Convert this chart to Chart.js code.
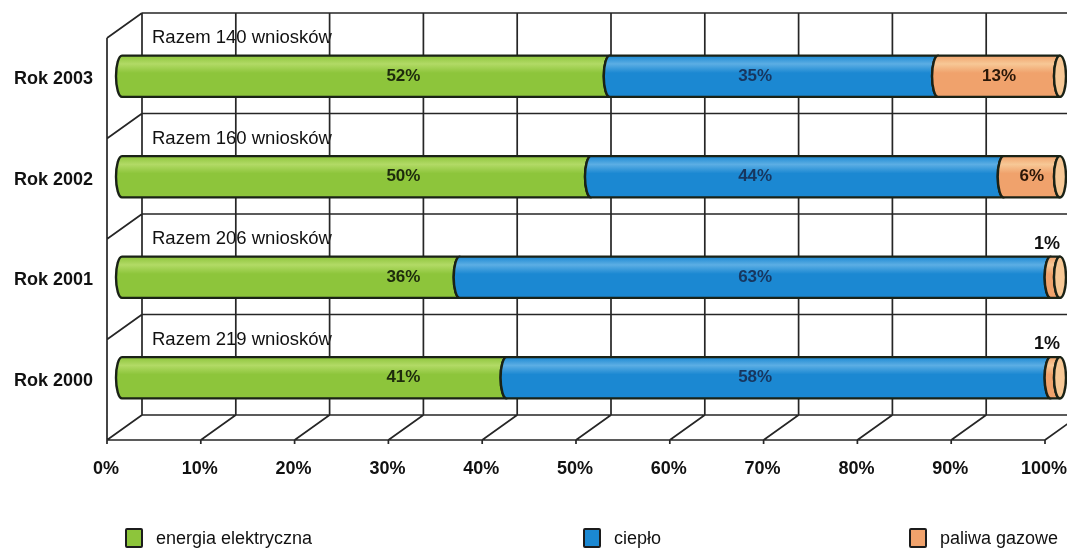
<!DOCTYPE html>
<html lang="pl">
<head>
<meta charset="utf-8">
<title>Struktura wniosków</title>
<script src="https://cdn.jsdelivr.net/npm/chart.js@4.4.1/dist/chart.umd.min.js"></script>
<style>
  html, body { margin: 0; padding: 0; background: #fff; }
  #wrap { position: relative; width: 1067px; height: 548px; overflow: hidden; }
  #legend {
    position: absolute; left: 0; right: 0; top: 527px; height: 22px;
    font: 18px "Liberation Sans", Arial, sans-serif; color: #111;
  }
  .item { position: absolute; top: 0; display: flex; align-items: center; height: 22px; }
  .box { width: 14px; height: 16px; border: 2px solid #1c1c1c; border-radius: 2px; margin-right: 13px; }
</style>
</head>
<body>
<div id="wrap">
  <canvas id="c" width="1067" height="548"></canvas>
  <div id="legend"></div>
</div>
<script>
// Categories (top to bottom) and the total number of applications per year
const years = ['Rok 2003', 'Rok 2002', 'Rok 2001', 'Rok 2000'];
const totals = [140, 160, 206, 219];

// Shares in percent
const energia = [52, 50, 36, 41];
const cieplo = [35, 44, 63, 58];
const paliwa = [13, 6, 1, 1];

// Axis tick values
const xTicks = [0, 10, 20, 30, 40, 50, 60, 70, 80, 90, 100];

const seriesNames = ['energia elektryczna', 'ciepło', 'paliwa gazowe'];

// Styling per series: fill, lighter cap colour, label colour, label anchor (axis units or null = centred)
const styles = [
  { fill: '#8dc53b', light: '#b2da66', text: '#1d2a0c', anchor: 30 },
  { fill: '#1b88d2', light: '#5caee4', text: '#17365f', anchor: 67.5 },
  { fill: '#f0a26c', light: '#f7c896', text: '#2a1708', anchor: null }
];
// Left edge of each legend entry
const legendLeft = [125, 583, 909];

const FONT = '"Liberation Sans", Arial, sans-serif';
const LINE = '#262626';
const BACK = { dx: 20, dy: -13 };   // depth offset of the back wall
const FRONT = { dx: -15, dy: 12 };  // depth offset of the front edge
const RX = 6;                        // horizontal radius of the cylinder ends

// Back wall, side wall, floor and the "Razem" captions
const framePlugin = {
  id: 'frame3d',
  beforeDatasetsDraw(chart) {
    const ctx = chart.ctx;
    const xs = chart.scales.x, ys = chart.scales.y;
    const top = chart.chartArea.top, bottom = chart.chartArea.bottom;
    const band = (bottom - top) / years.length;
    const bounds = [];
    for (let k = 0; k <= years.length; k++) bounds.push(top + k * band);
    const x0 = xs.getPixelForValue(0), x100 = xs.getPixelForValue(100);

    // captions above the bars
    ctx.save();
    ctx.font = '18.5px ' + FONT;
    ctx.fillStyle = '#111';
    ctx.textBaseline = 'middle';
    ctx.textAlign = 'left';
    years.forEach((y, i) => {
      const cy = ys.getPixelForValue(i);
      ctx.fillText('Razem ' + totals[i] + ' wniosków', x0 + 30, cy - 38);
    });
    ctx.restore();

    ctx.save();
    ctx.strokeStyle = LINE;
    ctx.lineWidth = 1.7;
    ctx.beginPath();
    // back wall verticals
    xTicks.forEach(v => {
      const x = xs.getPixelForValue(v) + BACK.dx;
      ctx.moveTo(x, top + BACK.dy);
      ctx.lineTo(x, bottom + BACK.dy);
    });
    // back wall horizontals and side wall diagonals
    bounds.forEach(b => {
      ctx.moveTo(x0 + BACK.dx, b + BACK.dy);
      ctx.lineTo(x100 + BACK.dx, b + BACK.dy);
      ctx.moveTo(x0 + FRONT.dx, b + FRONT.dy);
      ctx.lineTo(x0 + BACK.dx, b + BACK.dy);
    });
    // side wall front edge
    ctx.moveTo(x0 + FRONT.dx, top + FRONT.dy);
    ctx.lineTo(x0 + FRONT.dx, bottom + FRONT.dy);
    // floor front edge
    ctx.moveTo(x0 + FRONT.dx, bottom + FRONT.dy);
    ctx.lineTo(x100 + FRONT.dx, bottom + FRONT.dy);
    // floor diagonals and tick marks
    xTicks.forEach(v => {
      const x = xs.getPixelForValue(v);
      ctx.moveTo(x + FRONT.dx, bottom + FRONT.dy);
      ctx.lineTo(x + BACK.dx, bottom + BACK.dy);
      ctx.moveTo(x + FRONT.dx, bottom + FRONT.dy);
      ctx.lineTo(x + FRONT.dx, bottom + FRONT.dy + 4);
    });
    ctx.stroke();
    ctx.restore();
  }
};

// Bars drawn as cylinders from the bar elements' geometry
const cylinderPlugin = {
  id: 'cylinders',
  beforeDatasetDraw() { return false; },
  afterDatasetsDraw(chart) {
    const ctx = chart.ctx;
    const xs = chart.scales.x;
    const nSets = chart.data.datasets.length;
    ctx.save();
    ctx.lineJoin = 'round';
    for (let d = 0; d < nSets; d++) {
      const meta = chart.getDatasetMeta(d);
      meta.data.forEach(el => {
        const p = el.getProps(['x', 'y', 'base', 'height'], true);
        const ry = p.height / 2;
        const s = Math.min(p.base, p.x), e = Math.max(p.base, p.x);
        const g = ctx.createLinearGradient(0, p.y - ry, 0, p.y + ry);
        g.addColorStop(0, styles[d].fill);
        g.addColorStop(0.2, styles[d].light);
        g.addColorStop(0.42, styles[d].fill);
        g.addColorStop(1, styles[d].fill);
        ctx.beginPath();
        ctx.moveTo(s, p.y - ry);
        ctx.ellipse(s, p.y, RX, ry, 0, -Math.PI / 2, Math.PI / 2, true);
        ctx.lineTo(e, p.y + ry);
        ctx.ellipse(e, p.y, RX, ry, 0, Math.PI / 2, -Math.PI / 2, false);
        ctx.closePath();
        ctx.fillStyle = g;
        ctx.fill();
        ctx.strokeStyle = '#1a2216';
        ctx.lineWidth = 2.4;
        ctx.stroke();
        // end face of the cylinder
        if (d === nSets - 1) {
          ctx.beginPath();
          ctx.ellipse(e, p.y, RX, ry, 0, 0, Math.PI * 2);
          ctx.fillStyle = styles[d].light;
          ctx.fill();
          ctx.stroke();
        }
      });
    }

    // value labels
    ctx.font = 'bold 17px ' + FONT;
    ctx.textBaseline = 'middle';
    for (let d = 0; d < nSets; d++) {
      const meta = chart.getDatasetMeta(d);
      const vals = chart.data.datasets[d].data;
      meta.data.forEach((el, i) => {
        const p = el.getProps(['x', 'y', 'base', 'height'], true);
        const v = vals[i];
        const txt = v + '%';
        if (styles[d].anchor !== null) {
          ctx.textAlign = 'center';
          ctx.fillStyle = styles[d].text;
          ctx.fillText(txt, xs.getPixelForValue(styles[d].anchor), p.y);
        } else if (v >= 3) {
          ctx.textAlign = 'center';
          ctx.fillStyle = styles[d].text;
          ctx.fillText(txt, (p.x + p.base) / 2, p.y);
        } else {
          ctx.textAlign = 'right';
          ctx.fillStyle = '#111';
          ctx.font = 'bold 18px ' + FONT;
          ctx.fillText(txt, p.x, p.y - p.height / 2 - 13);
          ctx.font = 'bold 17px ' + FONT;
        }
      });
    }
    ctx.restore();
  }
};

const seriesData = [energia, cieplo, paliwa];

new Chart(document.getElementById('c'), {
  type: 'bar',
  data: {
    labels: years,
    datasets: seriesData.map((arr, i) => ({
      label: seriesNames[i],
      data: arr,
      backgroundColor: styles[i].fill,
      barPercentage: 0.41,
      categoryPercentage: 1
    }))
  },
  options: {
    indexAxis: 'y',
    responsive: false,
    devicePixelRatio: 1,
    animation: false,
    layout: { padding: { top: 26, right: 7, left: 0, bottom: 0 } },
    plugins: { legend: { display: false }, tooltip: { enabled: false } },
    scales: {
      x: {
        stacked: true,
        min: 0, max: 100,
        afterBuildTicks(scale) { scale.ticks = xTicks.map(v => ({ value: v })); },
        afterFit(scale) {
          scale.height = 120;
          scale.paddingLeft = 0; scale.paddingRight = 0;
          scale.paddingTop = 0; scale.paddingBottom = 0;
        },
        grid: { display: false, drawTicks: false },
        border: { display: false },
        ticks: {
          callback: v => v + '%',
          font: { family: FONT, size: 18, weight: 'bold' },
          color: '#111',
          labelOffset: -16,
          padding: 30,
          maxRotation: 0,
          autoSkip: false
        }
      },
      y: {
        stacked: true,
        afterFit(scale) {
          scale.width = 122;
          scale.paddingTop = 0; scale.paddingBottom = 0;
          scale.paddingLeft = 0; scale.paddingRight = 0;
        },
        grid: { display: false, drawTicks: false },
        border: { display: false },
        ticks: {
          font: { family: FONT, size: 18, weight: 'bold' },
          color: '#111',
          padding: 29,
          labelOffset: 3
        }
      }
    }
  },
  plugins: [framePlugin, cylinderPlugin]
});

// Legend built from the series names and fills
const legend = document.getElementById('legend');
seriesNames.forEach((name, i) => {
  const item = document.createElement('div');
  item.className = 'item';
  item.style.left = legendLeft[i] + 'px';
  const box = document.createElement('span');
  box.className = 'box';
  box.style.background = styles[i].fill;
  const label = document.createElement('span');
  label.textContent = name;
  item.appendChild(box);
  item.appendChild(label);
  legend.appendChild(item);
});
</script>
</body>
</html>
